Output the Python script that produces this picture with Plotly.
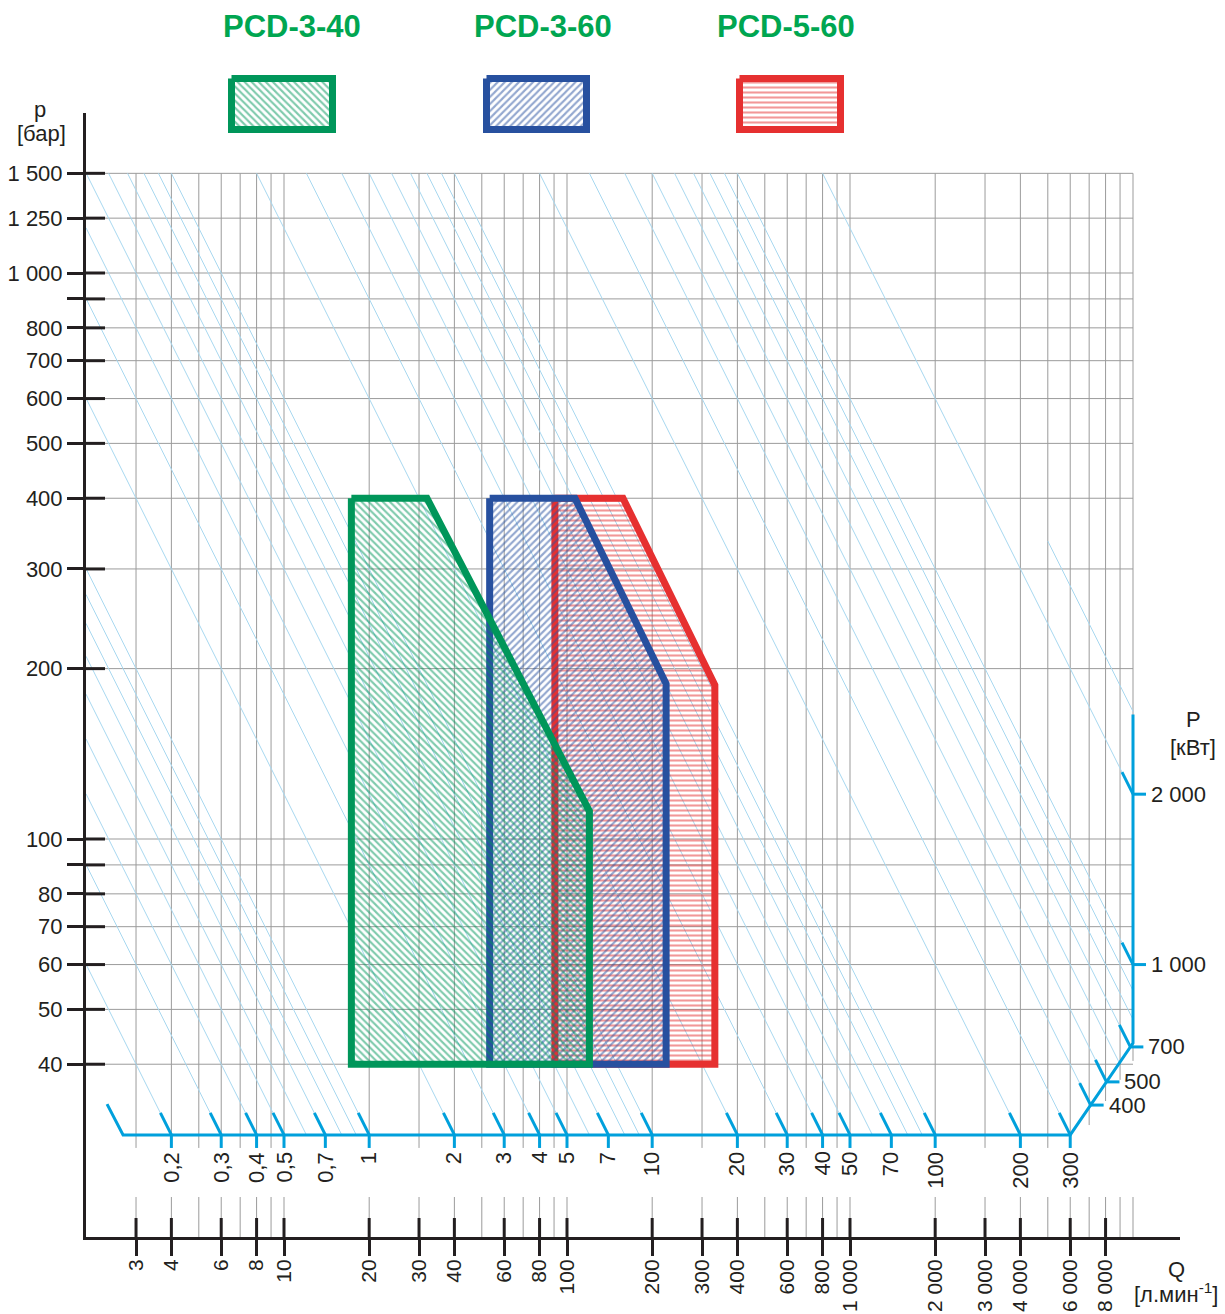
import math
import plotly.graph_objects as go

# ---------------------------------------------------------------- data
# pressure axis p [bar]
P_TICKS = [40, 50, 60, 70, 80, 100, 200, 300, 400, 500, 600, 700, 800, 1000, 1250, 1500]
P_TICK_TEXT = ["40", "50", "60", "70", "80", "100", "200", "300", "400", "500", "600",
               "700", "800", "1 000", "1 250", "1 500"]
P_MINOR_TICKS = [90, 900]

# flow axis Q [l/min]
Q_TICKS = [3, 4, 6, 8, 10, 20, 30, 40, 60, 80, 100, 200, 300, 400, 600, 800,
           1000, 2000, 3000, 4000, 6000, 8000]
Q_TICK_TEXT = ["3", "4", "6", "8", "10", "20", "30", "40", "60", "80", "100", "200", "300",
               "400", "600", "800", "1 000", "2 000", "3 000", "4 000", "6 000", "8 000"]
Q_GRID = [3, 4, 5, 6, 7, 8, 9, 10, 20, 30, 40, 50, 60, 70, 80, 90, 100, 200, 300, 400, 500,
          600, 700, 800, 900, 1000, 2000, 3000, 4000, 5000, 6000, 7000, 8000, 9000, 10000]

# constant power lines P [kW]  (P = p * Q / 600)
POWER_LINES = [0.2, 0.3, 0.4, 0.5, 0.6, 0.7, 0.8, 0.9, 1, 2, 3, 4, 5, 6, 7, 8, 9,
               10, 20, 30, 40, 50, 60, 70, 80, 90, 100, 200, 300, 400, 500, 600, 700,
               800, 900, 1000, 2000]
POWER_EDGE = [2800]          # outer line, drawn from Q = 5000
POWER_EDGE_Q0 = [5000]

POWER_TICKS_BOTTOM = [0.2, 0.3, 0.4, 0.5, 0.7, 1, 2, 3, 4, 5, 7, 10, 20, 30, 40, 50, 70, 100, 200, 300]
POWER_TICKS_BOTTOM_TEXT = ["0,2", "0,3", "0,4", "0,5", "0,7", "1", "2", "3", "4", "5", "7",
                           "10", "20", "30", "40", "50", "70", "100", "200", "300"]
POWER_TICKS_RIGHT = [400, 500, 700, 1000, 2000]
POWER_TICKS_RIGHT_TEXT = ["400", "500", "700", "1 000", "2 000"]

# blue power scale path (Q, p)
PSCALE_Q = [2.37, 2.70, 6000, 10000, 10000]
PSCALE_P = [34.0, 30.0, 30.0, 43.6, 166.0]

# working ranges of the pumps (Q [l/min], p [bar])
PCD340_Q = [17.3, 32.0, 120, 120, 17.3, 17.3]
PCD340_P = [400, 400, 112, 40, 40, 400]
PCD360_Q = [53.3, 106.7, 224, 224, 53.3, 53.3]
PCD360_P = [400, 400, 188, 40, 40, 400]
PCD560_Q = [90.6, 157.7, 333, 333, 90.6, 90.6]
PCD560_P = [400, 400, 187, 40, 40, 400]

SERIES = ["PCD-3-40", "PCD-3-60", "PCD-5-60"]

GRID_P_MAX = 1500
GRID_Q_MAX = 10000

# ---------------------------------------------------------------- styles / layout
W, H = 1225, 1314
PLOT_L, PLOT_R, PLOT_T, PLOT_B = 86, 1180, 113, 1237
X_RANGE = [0.30035, 4.16608]
Y_RANGE = [1.29682, 3.28269]
XPX = (PLOT_R - PLOT_L) / (X_RANGE[1] - X_RANGE[0])   # px per decade
YPX = (PLOT_B - PLOT_T) / (Y_RANGE[1] - Y_RANGE[0])


def fx(px):
    return 10 ** (px / XPX)


def fy(px):
    return 10 ** (px / YPX)


Q_MIN = 10 ** X_RANGE[0]
P_MIN = 10 ** Y_RANGE[0]

GREEN = "#00965a"
GREEN_TXT = "#00a651"
BLUE = "#27509f"
RED = "#e63030"
AX_BLUE = "#00a0dc"
PLINE = "#a8d8f0"
GRID = "#9b9b9b"
INK = "#231f20"
FONT = "Liberation Sans"
FS = 22

fig = go.Figure()


def lines(xs, ys, color, width, xa="x", ya="y"):
    fig.add_trace(go.Scatter(x=xs, y=ys, mode="lines", line=dict(color=color, width=width),
                             hoverinfo="skip", showlegend=False, xaxis=xa, yaxis=ya))


# diagonal part of power scale
L_BASE_P = math.log10(PSCALE_P[2])
L_BASE_Q = math.log10(PSCALE_Q[2])
L_CORNER_Q = math.log10(PSCALE_Q[3])
L_CORNER_P = math.log10(PSCALE_P[3])
M_DIAG = (L_CORNER_P - L_BASE_P) / (L_CORNER_Q - L_BASE_Q)


def diag_p(q):
    return 10 ** (L_BASE_P + M_DIAG * (math.log10(q) - L_BASE_Q))


def scale_point(P):
    """point where the constant power line P meets the blue power scale"""
    K = math.log10(600 * P)
    lq = K - L_BASE_P
    if lq <= L_BASE_Q:
        return 10 ** lq, 10 ** (K - lq)
    lq = (K - L_BASE_P + M_DIAG * L_BASE_Q) / (1 + M_DIAG)
    if lq <= L_CORNER_Q:
        return 10 ** lq, 10 ** (K - lq)
    return 10 ** L_CORNER_Q, 10 ** (K - L_CORNER_Q)


# ---------------------------------------------------------------- grid
gx, gy = [], []
for p in P_TICKS + P_MINOR_TICKS:
    gx += [Q_MIN, GRID_Q_MAX, None]
    gy += [p, p, None]
for q in Q_GRID:
    low = PSCALE_P[2] / fy(13) if q <= PSCALE_Q[2] else diag_p(q) * 0.93
    gx += [q, q, None, q, q, None]
    gy += [GRID_P_MAX, low, None, P_MIN * fy(40), P_MIN, None]
lines(gx, gy, GRID, 1)

# ---------------------------------------------------------------- power lines
px_, py_ = [], []
for P in POWER_LINES:
    K = math.log10(600 * P)
    lq0 = max(X_RANGE[0], K - math.log10(GRID_P_MAX))
    q1, _ = scale_point(P)
    for lq in (lq0, math.log10(q1)):
        px_.append(10 ** lq)
        py_.append(600 * P / 10 ** lq)
    px_.append(None)
    py_.append(None)
for P, q0 in zip(POWER_EDGE, POWER_EDGE_Q0):
    q1, _ = scale_point(P)
    px_ += [q0, q1, None]
    py_ += [600 * P / q0, 600 * P / q1, None]
lines(px_, py_, PLINE, 1)

# ---------------------------------------------------------------- working ranges
pats = [("\\", GREEN), ("/", BLUE), ("-", RED)]
ranges = [(PCD340_Q, PCD340_P), (PCD360_Q, PCD360_P), (PCD560_Q, PCD560_P)]
PAT = dict(bgcolor="rgba(0,0,0,0)", size=5, solidity=0.42)
for idx in (2, 1, 0):
    qs, ps = ranges[idx]
    shape, col = pats[idx]
    fig.add_trace(go.Scatter(
        x=qs, y=ps, mode="lines", fill="toself", fillcolor="rgba(0,0,0,0)",
        fillpattern=dict(shape=shape, fgcolor=col, **PAT),
        line=dict(color=col, width=7), hoverinfo="skip", showlegend=False, name=SERIES[idx]))

# ---------------------------------------------------------------- axis inner ticks
tx, ty = [], []
for q in Q_TICKS:
    tx += [q, q, None]
    ty += [P_MIN, P_MIN * fy(19), None]
for p in P_TICKS + P_MINOR_TICKS:
    tx += [Q_MIN, Q_MIN * fx(19), None]
    ty += [p, p, None]
lines(tx, ty, INK, 3)

# ---------------------------------------------------------------- blue power scale
lines(PSCALE_Q, PSCALE_P, AX_BLUE, 3)
bx, by = [], []
annotations = []
SL = 22  # px of slanted tick (vertical extent)
for P, txt in zip(POWER_TICKS_BOTTOM, POWER_TICKS_BOTTOM_TEXT):
    q, p = scale_point(P)
    bx += [q, q, None, q, q / fy(SL), None]
    by += [p, p / fy(13), None, p, p * fy(SL), None]
    annotations.append(dict(x=math.log10(q), y=math.log10(p), xref="x", yref="y", text=txt,
                            textangle=-90, showarrow=False, xanchor="center", yanchor="top",
                            yshift=-15, font=dict(family=FONT, size=FS, color=INK)))
for P, txt in zip(POWER_TICKS_RIGHT, POWER_TICKS_RIGHT_TEXT):
    q, p = scale_point(P)
    bx += [q, q * fx(13), None, q, q / fy(SL), None]
    by += [p, p, None, p, p * fy(SL), None]
    annotations.append(dict(x=math.log10(q), y=math.log10(p), xref="x", yref="y", text=txt,
                            showarrow=False, xanchor="left", yanchor="middle", xshift=16,
                            font=dict(family=FONT, size=FS, color=INK)))
lines(bx, by, AX_BLUE, 3)

# ---------------------------------------------------------------- legend boxes (overlay axes in px)
LEG_BOX_X = [(231.5, 332.5), (486.5, 586.5), (739.5, 840.5)]
LEG_BOX_Y = (78.5, 129.5)
LEG_TITLE_X = [292, 543, 786]
for idx in range(3):
    x0, x1 = LEG_BOX_X[idx]
    y0, y1 = LEG_BOX_Y
    shape, col = pats[idx]
    fig.add_trace(go.Scatter(
        x=[x0, x1, x1, x0, x0], y=[y0, y0, y1, y1, y0], mode="lines", fill="toself",
        fillcolor="rgba(0,0,0,0)",
        fillpattern=dict(shape=shape, fgcolor=col, **PAT),
        line=dict(color=col, width=7), hoverinfo="skip", showlegend=False,
        xaxis="x2", yaxis="y2"))
    annotations.append(dict(x=LEG_TITLE_X[idx] / W, y=1 - 27 / H, xref="paper", yref="paper",
                            text="<b>%s</b>" % SERIES[idx], showarrow=False,
                            xanchor="center", yanchor="middle",
                            font=dict(family=FONT, size=31, color=GREEN_TXT)))


def label(x, y, text, xa="center"):
    annotations.append(dict(x=x / W, y=1 - y / H, xref="paper", yref="paper", text=text,
                            showarrow=False, xanchor=xa, yanchor="middle",
                            font=dict(family=FONT, size=FS, color=INK)))


label(40, 110, "p")
label(41, 134, "[бар]")
label(1193, 719, "P")
label(1193, 747, "[кВт]")
label(1176, 1269, "Q")
label(1176, 1293, "[л.мин<sup>-1</sup>]")

axis_font = dict(family=FONT, size=FS, color=INK)
fig.update_layout(
    width=W, height=H, margin=dict(l=0, r=0, t=0, b=0, autoexpand=False),
    paper_bgcolor="white", plot_bgcolor="rgba(0,0,0,0)",
    showlegend=False,
    xaxis=dict(type="log", range=X_RANGE, domain=[PLOT_L / W, PLOT_R / W], anchor="y",
               automargin=False,
               tickmode="array", tickvals=Q_TICKS, ticktext=Q_TICK_TEXT, tickangle=-90,
               ticks="outside", ticklen=16, tickwidth=3, tickcolor=INK, ticklabelstandoff=-5,
               showline=True, linecolor=INK, linewidth=3, showgrid=False, zeroline=False,
               tickfont=dict(family=FONT, size=21, color=INK)),
    yaxis=dict(type="log", range=Y_RANGE, domain=[1 - PLOT_B / H, 1 - PLOT_T / H], anchor="x",
               automargin=False,
               tickmode="array", tickvals=P_TICKS, ticktext=P_TICK_TEXT,
               ticks="outside", ticklen=16, tickwidth=3, tickcolor=INK,
               minor=dict(tickmode="array", tickvals=P_MINOR_TICKS, ticks="outside",
                          ticklen=16, tickwidth=3, tickcolor=INK, showgrid=False),
               showline=True, linecolor=INK, linewidth=3, showgrid=False, zeroline=False,
               tickfont=axis_font),
    xaxis2=dict(range=[0, W], domain=[0, 1], anchor="y2", visible=False, automargin=False),
    yaxis2=dict(range=[H, 0], domain=[0, 1], anchor="x2", visible=False, automargin=False),
    annotations=annotations,
)

PAGE_FIX = "document.body.style.margin='0';document.body.style.overflow='hidden';"
fig.write_html("out.html", config={"displayModeBar": False}, post_script=PAGE_FIX)
